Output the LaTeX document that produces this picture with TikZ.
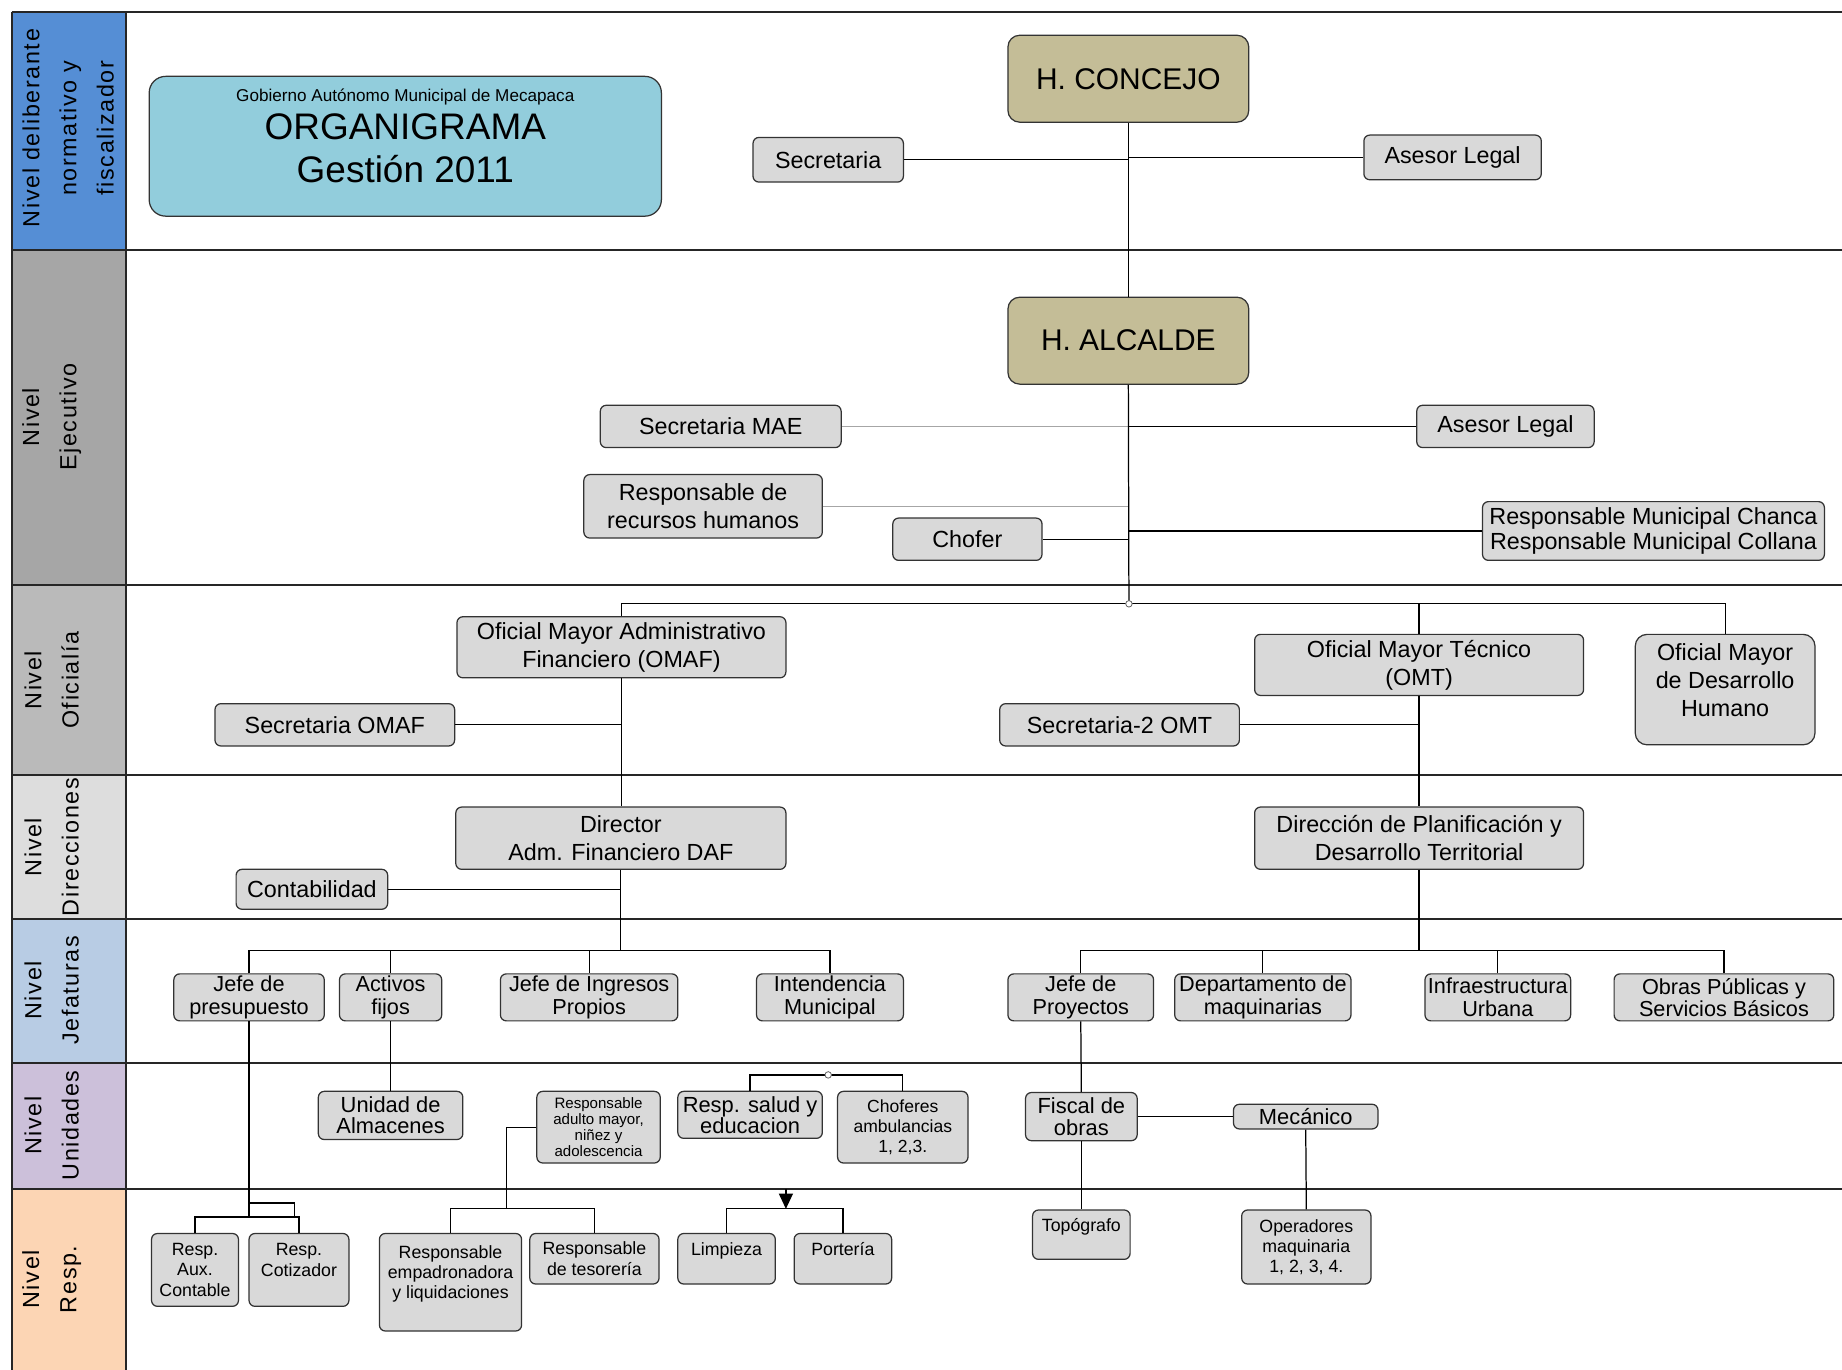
\documentclass[tikz,border=0pt]{standalone}
\usepackage{fontspec}
\setmainfont{Liberation Sans}
\newfontfamily\nivelfont[LetterSpace=7]{Liberation Sans}
\usetikzlibrary{arrows.meta}

\definecolor{azulnivel}{RGB}{85,142,213}
\definecolor{grisnivel}{RGB}{166,166,166}
\definecolor{grisoficial}{RGB}{186,186,186}
\definecolor{grisdir}{RGB}{221,221,221}
\definecolor{celestenivel}{RGB}{184,204,228}
\definecolor{lilanivel}{RGB}{204,192,218}
\definecolor{durazno}{RGB}{252,213,180}
\definecolor{titulofill}{RGB}{146,205,220}
\definecolor{autoridadfill}{RGB}{196,189,151}

\tikzset{
  cargo/.style={draw=black!80, fill=black!15, rounded corners=1mm, line width=0.6pt,
    align=center, inner sep=0pt, font=\fontsize{11.3}{13.5}\selectfont},
  autoridad/.style={cargo, fill=autoridadfill, rounded corners=2mm, font=\fontsize{14.5}{17}\selectfont},
  jefatura/.style={cargo, font=\fontsize{10.5}{10.8}\selectfont},
  unidad/.style={cargo, font=\fontsize{10.6}{10.3}\selectfont},
  menor/.style={cargo, font=\fontsize{8.6}{9.8}\selectfont},
  nivel/.style={rotate=90, align=center, font=\nivelfont\fontsize{11.3}{18}\selectfont},
  linea/.style={line width=0.6pt},
  tenue/.style={line width=0.6pt, draw=black!35},
  carril/.style={line width=1.1pt, draw=black!85},
  nudo/.style={circle, draw=black!60, fill=white, inner sep=0pt, minimum size=1.1mm, line width=0.4pt},
}

\begin{document}
\begin{tikzpicture}[x=0.2mm, y=-0.2mm]
  \useasboundingbox (0,0) rectangle (1568,1166);

  % carriles
  \foreach \ya/\yb/\col in {10/213/azulnivel, 213/498/grisnivel, 498/660/grisoficial,
      660/782/grisdir, 782/905/celestenivel, 905/1012/lilanivel, 1012/1166/durazno}
    \fill[\col] (10,\ya) rectangle (107,\yb);
  \foreach \y in {10,213,498,660,782,905,1012}
    \draw[carril] (10,\y) -- (1568,\y);
  \draw[carril] (10,10) -- (10,1166);
  \draw[carril] (107,10) -- (107,1166);

  \node[nivel] (n1) at (58,109)  {Nivel deliberante\\normativo y\\fiscalizador};
  \node[nivel] (n2) at (44,355)  {Nivel\\Ejecutivo};
  \node[nivel] (n3) at (44,579)  {Nivel\\Oficialía};
  \node[nivel] (n4) at (44,721)  {Nivel\\Direcciones};
  \node[nivel] (n5) at (44,843)  {Nivel\\Jefaturas};
  \node[nivel] (n6) at (44,958)  {Nivel\\Unidades};
  \node[nivel] (n7) at (44,1089) {Nivel\\Resp.};

  % titulo
  \node[cargo, fill=titulofill, rounded corners=2.8mm, minimum width=87.2mm, minimum height=23.8mm,
        font=\fontsize{17.9}{21}\selectfont] (titulo) at (345,124.5)
    {{\fontsize{8.3}{9}\selectfont Gobierno Autónomo Municipal de Mecapaca}\\[-3pt]
     ORGANIGRAMA\\Gestión 2011\\[-11pt]\mbox{}};

  % nivel deliberante
  \node[autoridad, minimum width=41mm, minimum height=14.8mm] (concejo) at (960.5,67) {H. CONCEJO};
  \node[cargo, minimum width=25.6mm, minimum height=7.6mm] (sec1) at (705,136) {Secretaria};
  \node[cargo, minimum width=30.2mm, minimum height=7.6mm] (asesor1) at (1236.5,134) {Asesor Legal};

  % nivel ejecutivo
  \node[autoridad, minimum width=41mm, minimum height=14.8mm] (alcalde) at (960.5,290) {H. ALCALDE};
  \node[cargo, minimum width=41mm, minimum height=7.2mm] (secmae) at (613.5,363) {Secretaria MAE};
  \node[cargo, minimum width=30.2mm, minimum height=7.2mm] (asesor2) at (1281.5,363) {Asesor Legal};
  \node[cargo, minimum width=40.6mm, minimum height=10.8mm] (rrhh) at (598.5,431) {Responsable de\\recursos humanos};
  \node[cargo, minimum width=25.4mm, minimum height=7.2mm] (chofer) at (823.5,459) {Chofer};
  \node[cargo, minimum width=58.2mm, minimum height=10mm, font=\fontsize{11.3}{12.5}\selectfont] (respmun) at (1407.5,452)
    {Responsable Municipal Chanca\\Responsable Municipal Collana};
  \coordinate (reparto) at (961,514);

  % nivel oficialia
  \node[cargo, minimum width=56mm, minimum height=10.4mm] (omaf) at (529,551) {Oficial Mayor Administrativo\\Financiero (OMAF)};
  \node[cargo, minimum width=40.8mm, minimum height=7.2mm] (secomaf) at (285,617) {Secretaria OMAF};
  \node[cargo, minimum width=56mm, minimum height=10.4mm] (omt) at (1208,566) {Oficial Mayor Técnico\\(OMT)};
  \node[cargo, minimum width=40.8mm, minimum height=7.2mm] (sec2omt) at (953,617) {Secretaria-2 OMT};
  \node[cargo, rounded corners=2mm, minimum width=30.6mm, minimum height=18.8mm] (odh) at (1468.5,587)
    {Oficial Mayor\\de Desarrollo\\Humano\\[-4pt]\mbox{}};

  % nivel direcciones
  \node[cargo, minimum width=56.2mm, minimum height=10.6mm] (daf) at (528.5,713.5) {Director\\Adm. Financiero DAF};
  \node[cargo, minimum width=25.8mm, minimum height=6.8mm] (conta) at (265.5,757) {Contabilidad};
  \node[cargo, minimum width=56mm, minimum height=10.6mm] (dpdt) at (1208,713.5) {Dirección de Planificación y\\Desarrollo Territorial};
  \coordinate (reparto2) at (528.5,809);
  \coordinate (reparto3) at (1208,809);

  % nivel jefaturas
  \node[jefatura, minimum width=25.6mm, minimum height=8mm] (jpres) at (212,849) {Jefe de\\presupuesto};
  \node[jefatura, minimum width=17.4mm, minimum height=8mm] (activos) at (332.5,849) {Activos\\fijos};
  \node[jefatura, minimum width=30.2mm, minimum height=8mm] (jingresos) at (501.5,849) {Jefe de Ingresos\\Propios};
  \node[jefatura, minimum width=25mm, minimum height=8mm] (intend) at (706.5,849) {Intendencia\\Municipal};
  \node[jefatura, minimum width=24.8mm, minimum height=8mm] (jproy) at (920,849) {Jefe de\\Proyectos};
  \node[jefatura, minimum width=30mm, minimum height=8mm] (dmaq) at (1075,849) {Departamento de\\maquinarias};
  \node[jefatura, minimum width=24.8mm, minimum height=8mm] (infra) at (1275,849) {Infraestructura\\Urbana};
  \node[jefatura, minimum width=37.4mm, minimum height=8mm] (obras) at (1467.5,849) {Obras Públicas y\\Servicios Básicos};

  % nivel unidades
  \node[unidad, minimum width=24.6mm, minimum height=8.2mm] (almacen) at (332.5,949.5) {Unidad de\\Almacenes};
  \node[cargo, minimum width=21mm, minimum height=12.2mm, font=\fontsize{7.3}{7.8}\selectfont] (adulto) at (509.5,959.5)
    {Responsable\\adulto mayor,\\niñez y\\adolescencia};
  \node[unidad, minimum width=24.6mm, minimum height=8mm] (salud) at (638.5,949) {Resp. salud y\\educacion};
  \node[cargo, minimum width=22.2mm, minimum height=12.2mm, font=\fontsize{8.5}{9.5}\selectfont] (choferes) at (768.5,959.5)
    {Choferes\\ambulancias\\1, 2,3.};
  \node[unidad, minimum width=19mm, minimum height=8.2mm] (fiscal) at (920.5,950.5) {Fiscal de\\obras};
  \node[unidad, minimum width=24.6mm, minimum height=4.2mm] (mecanico) at (1111.5,950.5) {Mecánico};
  \coordinate (nudo2) at (705,915);

  % nivel responsables
  \node[menor, minimum width=14.8mm, minimum height=12.4mm] (auxcont) at (166,1081) {Resp.\\Aux.\\Contable};
  \node[menor, minimum width=17mm, minimum height=12.4mm] (cotiz) at (254.5,1081) {Resp.\\Cotizador\\\mbox{}};
  \node[menor, minimum width=24.2mm, minimum height=16.6mm] (empadr) at (383.5,1091.5)
    {Responsable\\empadronadora\\y liquidaciones\\\mbox{}};
  \node[menor, minimum width=22mm, minimum height=8.6mm] (tesor) at (506,1071.5) {Responsable\\de tesorería};
  \node[menor, minimum width=16.6mm, minimum height=8.6mm] (limpieza) at (618.5,1071.5) {Limpieza\\\mbox{}};
  \node[menor, minimum width=16.6mm, minimum height=8.6mm] (porteria) at (717.5,1071.5) {Portería\\\mbox{}};
  \node[menor, minimum width=16.6mm, minimum height=8.4mm] (topog) at (920.5,1051) {Topógrafo\\\mbox{}};
  \node[menor, minimum width=22mm, minimum height=12.6mm] (operad) at (1112,1061.5) {Operadores\\maquinaria\\1, 2, 3, 4.};
  \coordinate (reparto4) at (212,1036);
  \coordinate (lazo1) at (212,1024);
  \coordinate (lazo2) at (251,1036);
  \coordinate (reparto5) at (431,1029);
  \coordinate (flecha) at (669,1012);
  \coordinate (reparto6) at (669,1029);

  % conectores
  \draw[linea] (concejo) -- (alcalde);
  \draw[linea] (sec1.east) -- (sec1.east -| concejo.south);
  \draw[linea] (asesor1.west) -- (asesor1.west -| concejo.south);
  \draw[tenue] (secmae.east) -- (secmae.east -| alcalde.south);
  \draw[linea] (asesor2.west) -- (asesor2.west -| alcalde.south);
  \draw[tenue] (rrhh.east) -- (rrhh.east -| alcalde.south);
  \draw[linea] (chofer.east) -- (chofer.east -| alcalde.south);
  \draw[linea] (respmun.west) -- (respmun.west -| alcalde.south);
  \draw[linea] (alcalde.south) -- (reparto);
  \draw[linea] (omaf.north) |- (reparto) -| (odh.north);
  \draw[linea] (reparto) -| (omt.north);

  \draw[linea] (omaf.south) -- (omaf.south |- daf.north);
  \draw[linea] (secomaf.east) -- (secomaf.east -| omaf.south);
  \draw[linea] (omt.south) -- (dpdt.north);
  \draw[linea] (sec2omt.east) -- (sec2omt.east -| omt.south);

  \draw[linea] (conta.east) -- (conta.east -| daf.south);
  \draw[linea] (daf.south) -- (reparto2);
  \draw[linea] (jpres.north) |- (reparto2) -| (intend.north);
  \draw[linea] (activos.north) -- (activos.north |- reparto2);
  \draw[linea] (jingresos.north) -- (jingresos.north |- reparto2);
  \draw[linea] (dpdt.south) -- (reparto3);
  \draw[linea] (jproy.north) |- (reparto3) -| (obras.north);
  \draw[linea] (dmaq.north) -- (dmaq.north |- reparto3);
  \draw[linea] (infra.north) -- (infra.north |- reparto3);

  \draw[linea] (activos.south) -- (almacen.north);
  \draw[linea] (jpres.south) -- (reparto4);
  \draw[linea] (lazo1) -| (lazo2);
  \draw[linea] (auxcont.north) |- (reparto4) -| (cotiz.north);
  \draw[linea] (adulto.west) -| (reparto5);
  \draw[linea] (empadr.north) |- (reparto5) -| (tesor.north);
  \draw[linea] (salud.north) |- (nudo2) -| (choferes.north);
  \draw[linea, -{Triangle[length=2.6mm, width=2.4mm]}] (flecha) -- (reparto6);
  \draw[linea] (limpieza.north) |- (reparto6) -| (porteria.north);
  \draw[linea] (jproy.south) -- (fiscal.north);
  \draw[linea] (fiscal.east) -- (mecanico.west);
  \draw[linea] (fiscal.south) -- (topog.north);
  \draw[linea] (mecanico.south) -- (operad.north);

  \node[nudo] (union1) at (reparto) {};
  \node[nudo] (union2) at (nudo2) {};
\end{tikzpicture}
\end{document}
